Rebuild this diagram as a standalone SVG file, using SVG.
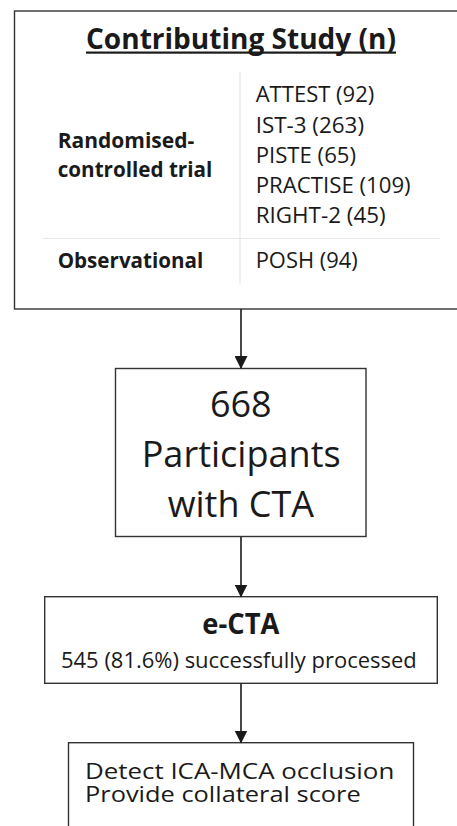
<svg xmlns="http://www.w3.org/2000/svg" width="457" height="826" viewBox="0 0 457 826">
<style>
text{font-family:"Open Sans","Liberation Sans",sans-serif;fill:#1a1a1a}
.b{font-weight:bold}
.box{fill:#fff;stroke:#333;stroke-width:1.4}
.grid{stroke:#e6e6e6;stroke-width:1.2}
.conn{stroke:#1a1a1a;stroke-width:1.6;fill:none}
</style>
<defs>
<marker id="ah" markerUnits="userSpaceOnUse" markerWidth="13" markerHeight="13" refX="12" refY="6.5" orient="auto" viewBox="0 0 13 13">
<path d="M0,0 L13,6.5 L0,13 Z" fill="#1a1a1a"/>
</marker>
</defs>
<rect width="457" height="826" fill="#fff"/>
<g id="studies">
<rect class="box" x="14.5" y="11" width="460" height="298"/>
<text class="b" x="86" y="49" font-size="28" textLength="310" lengthAdjust="spacingAndGlyphs">Contributing Study (n)</text>
<rect x="86" y="51.5" width="310" height="2.2" fill="#1a1a1a"/>
<line class="grid" x1="240" y1="71.5" x2="240" y2="283.5"/>
<line class="grid" x1="42" y1="238.5" x2="440" y2="238.5"/>
<text class="b" x="57.7" y="147.7" font-size="21.5" textLength="136.6" lengthAdjust="spacingAndGlyphs">Randomised-</text>
<text class="b" x="57.7" y="177.3" font-size="21.5" textLength="154.6" lengthAdjust="spacingAndGlyphs">controlled trial</text>
<text class="b" x="57.7" y="268.3" font-size="21.5" textLength="145.6" lengthAdjust="spacingAndGlyphs">Observational</text>
<text x="255.7" y="102.3" font-size="21" textLength="118.6" lengthAdjust="spacingAndGlyphs">ATTEST (92)</text>
<text x="255.7" y="132.5" font-size="21" textLength="108.3" lengthAdjust="spacingAndGlyphs">IST-3 (263)</text>
<text x="255.7" y="162.7" font-size="21" textLength="100.3" lengthAdjust="spacingAndGlyphs">PISTE (65)</text>
<text x="255.7" y="193" font-size="21" textLength="155" lengthAdjust="spacingAndGlyphs">PRACTISE (109)</text>
<text x="255.7" y="223.3" font-size="21" textLength="130" lengthAdjust="spacingAndGlyphs">RIGHT-2 (45)</text>
<text x="255.7" y="268.3" font-size="21" textLength="102" lengthAdjust="spacingAndGlyphs">POSH (94)</text>
</g>
<g id="participants">
<rect class="box" x="115.5" y="368.5" width="250.5" height="168"/>
<text x="210" y="417.3" font-size="36" textLength="61.7" lengthAdjust="spacingAndGlyphs">668</text>
<text x="141.7" y="466.7" font-size="36" textLength="199" lengthAdjust="spacingAndGlyphs">Participants</text>
<text x="167.7" y="517.3" font-size="36" textLength="146.3" lengthAdjust="spacingAndGlyphs">with CTA</text>
</g>
<g id="ecta">
<rect class="box" x="44.7" y="596.7" width="392.6" height="86.6"/>
<text class="b" x="202.3" y="634.3" font-size="28" textLength="77" lengthAdjust="spacingAndGlyphs">e-CTA</text>
<text x="61" y="668.3" font-size="21" textLength="355.7" lengthAdjust="spacingAndGlyphs">545 (81.6%) successfully processed</text>
</g>
<g id="outcome">
<rect class="box" x="68.5" y="742.7" width="345" height="110"/>
<text x="85" y="779" font-size="22.5" textLength="309.3" lengthAdjust="spacingAndGlyphs">Detect ICA-MCA occlusion</text>
<text x="85" y="802.3" font-size="22.5" textLength="275.7" lengthAdjust="spacingAndGlyphs">Provide collateral score</text>
</g>
<g id="connectors">
<line class="conn" x1="241" y1="309" x2="241" y2="368" marker-end="url(#ah)"/>
<line class="conn" x1="241" y1="537" x2="241" y2="596.5" marker-end="url(#ah)"/>
<line class="conn" x1="241" y1="683.5" x2="241" y2="742.5" marker-end="url(#ah)"/>
</g>
</svg>
